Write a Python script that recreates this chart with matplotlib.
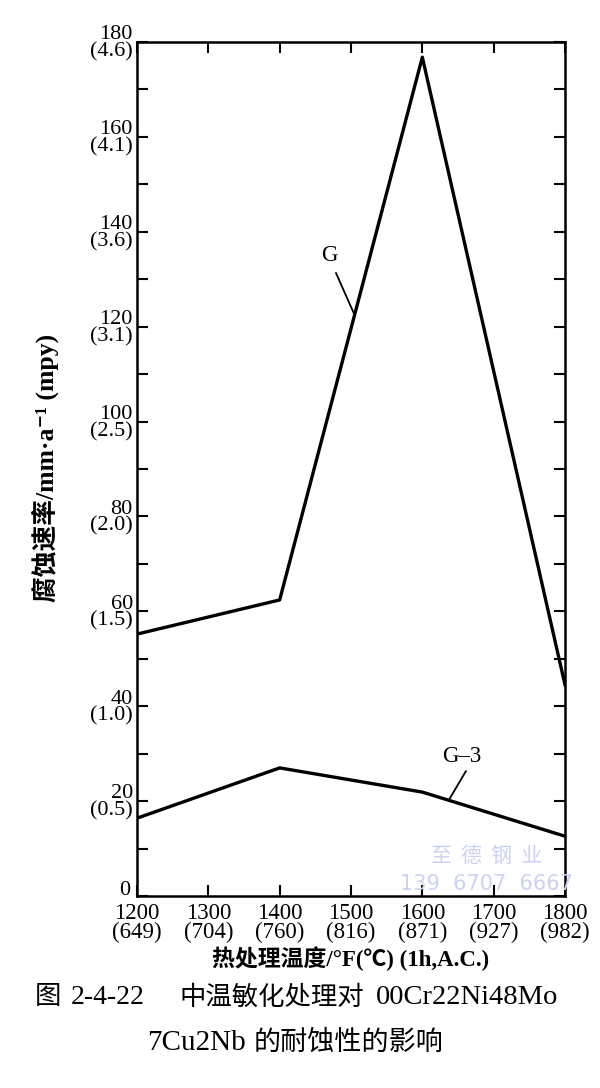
import numpy as np
import matplotlib.pyplot as plt
import matplotlib.transforms as mtransforms
from matplotlib.ticker import MultipleLocator

plt.rcParams['font.family'] = ['Liberation Serif', 'Noto Sans CJK SC', 'DejaVu Sans']

# data
temps_f = [1200, 1400, 1600, 1800]
g_rate = [55.2, 62.4, 176.8, 44.5]
g3_rate = [16.4, 27, 21.9, 12.6]

x_ticks = [1200, 1300, 1400, 1500, 1600, 1700, 1800]
x_c = ["649", "704", "760", "816", "871", "927", "982"]
y_ticks = [0, 20, 40, 60, 80, 100, 120, 140, 160, 180]
y_mm = ["", "0.5", "1.0", "1.5", "2.0", "2.5", "3.1", "3.6", "4.1", "4.6"]

W, H = 600, 1088
fig = plt.figure(figsize=(W / 100, H / 100), dpi=100)
ax = fig.add_axes([137 / W, 1 - 896 / H, 428 / W, 854 / H])

ax.plot(temps_f, g_rate, color='black', lw=2.4)
ax.plot(temps_f, g3_rate, color='black', lw=2.4)

ax.set_xlim(1200, 1800)
ax.set_ylim(0, 180)
for s in ax.spines.values():
    s.set_linewidth(1.8)

ax.set_xticks(x_ticks)
ax.set_xticklabels([f"{f}\n({c})" for f, c in zip(x_ticks, x_c)], fontsize=16.5,
                   linespacing=0.9)
ax.set_yticks(y_ticks)
ax.set_yticklabels([f"{v}\n({m})" if m else "0" for v, m in zip(y_ticks, y_mm)],
                   fontsize=16, linespacing=0.85)
ax.yaxis.set_minor_locator(MultipleLocator(10))
ax.tick_params(axis='both', which='both', direction='in', top=True, right=True,
               length=8, width=1.5)
ax.tick_params(axis='x', pad=5)
ax.tick_params(axis='y', pad=3)

# lift the lone "0" so it clears the "1200" label
zero = ax.get_yticklabels()[0]
zero.set_transform(zero.get_transform() +
                   mtransforms.ScaledTranslation(-2 / 72, 6 / 72, fig.dpi_scale_trans))

ax.set_xlabel("热处理温度/°F(℃) (1h,A.C.)", fontsize=16.5, fontweight='bold', labelpad=2)
fig.text(45 / W, 1 - 468 / H, "腐蚀速率/mm·a⁻¹ (mpy)", fontsize=18.5, fontweight='bold',
         rotation=90, ha='center', va='center')

# curve labels with leader lines
ax.text(1470, 135, "G", fontsize=16.5, ha='center', va='center')
gx = 1505
ax.plot([1479, gx], [131.3, np.interp(gx, temps_f, g_rate)], color='black', lw=1.3)
ax.text(1655, 29.5, "G–3", fontsize=16.5, ha='center', va='center')
g3x = 1637
ax.plot([1661, g3x], [26.3, np.interp(g3x, temps_f, g3_rate)], color='black', lw=1.3)

# watermark
ax.text(1690, 8.5, "至  德  钢  业", fontsize=15, color='#c9d2f0', ha='center', va='center',
        family=['Noto Sans CJK SC'])
ax.text(1690, 2.5, "139  6707  6667", fontsize=15, color='#c9d2f0', ha='center', va='center',
        family=['DejaVu Sans'])

# caption
def cap(x, y, s, size):
    fig.text(x / W, 1 - y / H, s, fontsize=size, ha='left', va='center')

cap(35, 998, "图", 19)
cap(71, 998, "2-4-22", 20)
cap(179, 998, "中温敏化处理对", 19)
cap(376, 998, "00Cr22Ni48Mo", 20.5)
cap(147, 1043, "7Cu2Nb", 21)
cap(254, 1043, "的耐蚀性的影响", 19.5)

fig.savefig("out.png", dpi=100)
